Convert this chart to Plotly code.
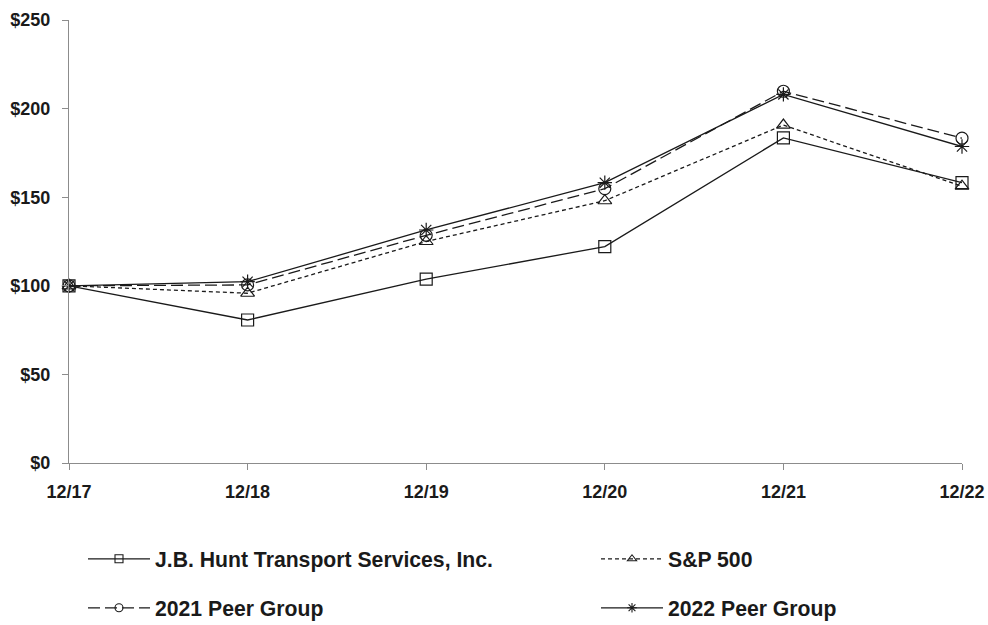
import plotly.graph_objects as go

periods = ["12/17", "12/18", "12/19", "12/20", "12/21", "12/22"]
jbhunt = [100, 80.7, 103.8, 122.1, 183.5, 158.2]
sp500 = [100, 95.8, 125.0, 148.0, 190.7, 156.2]
peer2021 = [100, 100.5, 128.5, 154.8, 209.8, 183.3]
peer2022 = [100, 102.3, 131.5, 158.2, 208.0, 178.6]

names = ["J.B. Hunt Transport Services, Inc.", "S&P 500", "2021 Peer Group", "2022 Peer Group"]
series = [jbhunt, sp500, peer2021, peer2022]
symbols = ["square-open", "triangle-up-open", "circle-open", "asterisk-open"]
dashes = ["solid", "4px,3px", "12px,5px", "solid"]
legends = ["legend", "legend2", "legend3", "legend4"]

W, H = 988, 625
FONT = "Liberation Sans, Arial, sans-serif"
INK = "#1a1a1a"

x_idx = list(range(len(periods)))

fig = go.Figure()
for name, vals, sym, dash, lg in zip(names, series, symbols, dashes, legends):
    fig.add_trace(go.Scatter(
        x=x_idx, y=vals, name=name, mode="lines+markers",
        line=dict(color=INK, width=1.3, dash=dash),
        marker=dict(symbol=sym, size=12, color=INK, line=dict(color=INK, width=1.2)),
        cliponaxis=False, showlegend=False,
    ))
    # legend-only entry with smaller marker, like the reference key
    fig.add_trace(go.Scatter(
        x=[None], y=[None], name=name, mode="lines+markers",
        line=dict(color=INK, width=1.3, dash=dash),
        marker=dict(symbol=sym, size=8, color=INK, line=dict(color=INK, width=1.1)),
        showlegend=True, legend=lg,
    ))

leg_font = dict(family=FONT, size=21.2, color=INK, weight="bold")
def leg(xpx, ypx):
    return dict(xref="container", yref="container", x=xpx / W, y=1 - ypx / H,
                xanchor="left", yanchor="middle", orientation="h",
                itemwidth=62, font=leg_font, bgcolor="rgba(0,0,0,0)",
                borderwidth=0, tracegroupgap=0)

fig.update_layout(
    width=W, height=H,
    margin=dict(l=69, r=26, t=20, b=162, pad=0),
    paper_bgcolor="white", plot_bgcolor="white",
    font=dict(family=FONT, color=INK),
    showlegend=True,
    legend=leg(83, 559),
    legend2=leg(596, 559),
    legend3=leg(83, 608),
    legend4=leg(596, 608),
    xaxis=dict(
        range=[0, 5], tickmode="array", tickvals=x_idx, ticktext=periods,
        showgrid=False, zeroline=False, showline=True, linecolor="#8c8c8c", linewidth=1.3,
        ticks="outside", ticklen=6, tickcolor="#8c8c8c", tickwidth=1.3,
        tickfont=dict(family=FONT, size=18, color=INK, weight="bold"),
        ticklabelstandoff=6, fixedrange=True, automargin=False,
    ),
    yaxis=dict(
        range=[0, 250], dtick=50, tickprefix="$",
        showgrid=False, zeroline=False, showline=True, linecolor="#8c8c8c", linewidth=1.3,
        ticks="outside", ticklen=6, tickcolor="#8c8c8c", tickwidth=1.3,
        tickfont=dict(family=FONT, size=18, color=INK, weight="bold"),
        ticklabelstandoff=8, fixedrange=True, automargin=False,
    ),
)

fig.write_html("out.html")
